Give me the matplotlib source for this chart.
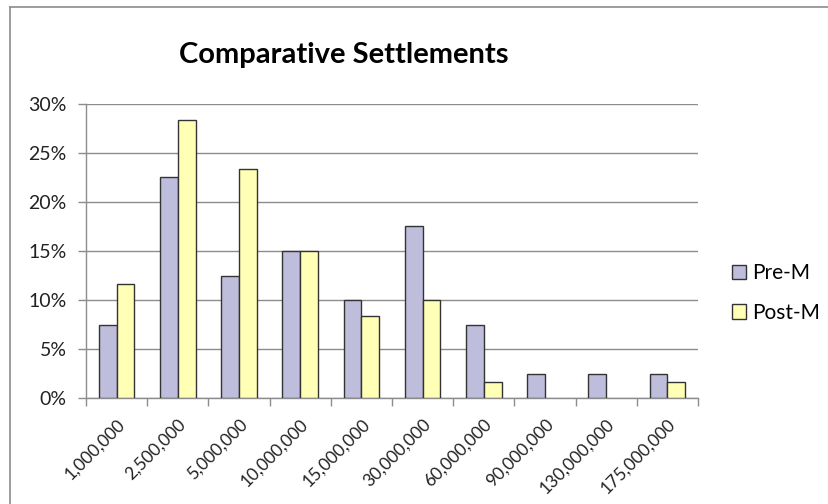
import matplotlib.pyplot as plt
import numpy as np
from matplotlib.lines import Line2D
from matplotlib.ticker import FuncFormatter

categories = ['1,000,000', '2,500,000', '5,000,000', '10,000,000', '15,000,000',
              '30,000,000', '60,000,000', '90,000,000', '130,000,000', '175,000,000']
pre_m = [7.5, 22.5, 12.5, 15.0, 10.0, 17.5, 7.5, 2.5, 2.5, 2.5]
post_m = [11.67, 28.33, 23.33, 15.0, 8.33, 10.0, 1.67, 0.0, 0.0, 1.67]
series_names = ['Pre-M', 'Post-M']

plt.rcParams['font.family'] = ['Lato', 'DejaVu Sans']

fig = plt.figure(figsize=(8.29, 5.04), dpi=100)
ax = fig.add_axes([86 / 829, 1 - 398 / 504, 612 / 829, 294 / 504])

x = np.arange(len(categories))
w = 0.29
# excel draws nothing for an empty bar, so no outline there either
lw_pre = [1.0 if v > 0 else 0 for v in pre_m]
lw_post = [1.0 if v > 0 else 0 for v in post_m]
ax.bar(x - w / 2, pre_m, w, color='#BFBDDC', edgecolor='#333333', linewidth=lw_pre,
       label=series_names[0], zorder=3)
ax.bar(x + w / 2, post_m, w, color='#FFFFB5', edgecolor='#333333', linewidth=lw_post,
       label=series_names[1], zorder=3)

ax.set_xlim(-0.5, len(categories) - 0.5)
ax.set_ylim(0, 30)
ax.set_yticks(np.arange(0, 31, 5))
ax.yaxis.set_major_formatter(FuncFormatter(lambda v, p: '%d%%' % v))
ax.yaxis.grid(True, color='#8C8C8C', linewidth=1.0, zorder=0)

# category boundaries carry the tick marks
ax.set_xticks(np.arange(-0.5, len(categories), 1.0))
ax.set_xticklabels([])
ax.set_xticks(x, minor=True)
ax.set_xticklabels(categories, minor=True, rotation=45, ha='right',
                   rotation_mode='anchor', fontsize=12.5, color='#222222')
ax.tick_params(axis='x', which='major', length=6, width=1, color='#8C8C8C', direction='out')
ax.tick_params(axis='x', which='minor', length=0, pad=13)
ax.tick_params(axis='y', length=6, width=1, color='#8C8C8C', labelsize=14,
               labelcolor='#222222', pad=8)

for s in ['top', 'right']:
    ax.spines[s].set_visible(False)
for s in ['left', 'bottom']:
    ax.spines[s].set_color('#8C8C8C')
    ax.spines[s].set_linewidth(1.0)

fig.text(344 / 829, 1 - 55 / 504, 'Comparative Settlements', ha='center', va='center',
         fontsize=21, fontweight='bold')

leg = fig.legend(loc='center left', bbox_to_anchor=(732 / 829, 1 - 293 / 504),
                 frameon=False, fontsize=15, handlelength=0.68, handleheight=0.68,
                 handletextpad=0.3, labelspacing=0.95, borderpad=0, borderaxespad=0)

# chart frame (top and left edges visible)
fig.add_artist(Line2D([10.5 / 829, 10.5 / 829], [0, 1 - 7 / 504], color='#8C8C8C', linewidth=1.2))
fig.add_artist(Line2D([10.5 / 829, 1], [1 - 7 / 504, 1 - 7 / 504], color='#8C8C8C', linewidth=1.2))

fig.savefig('out.png', dpi=100)
